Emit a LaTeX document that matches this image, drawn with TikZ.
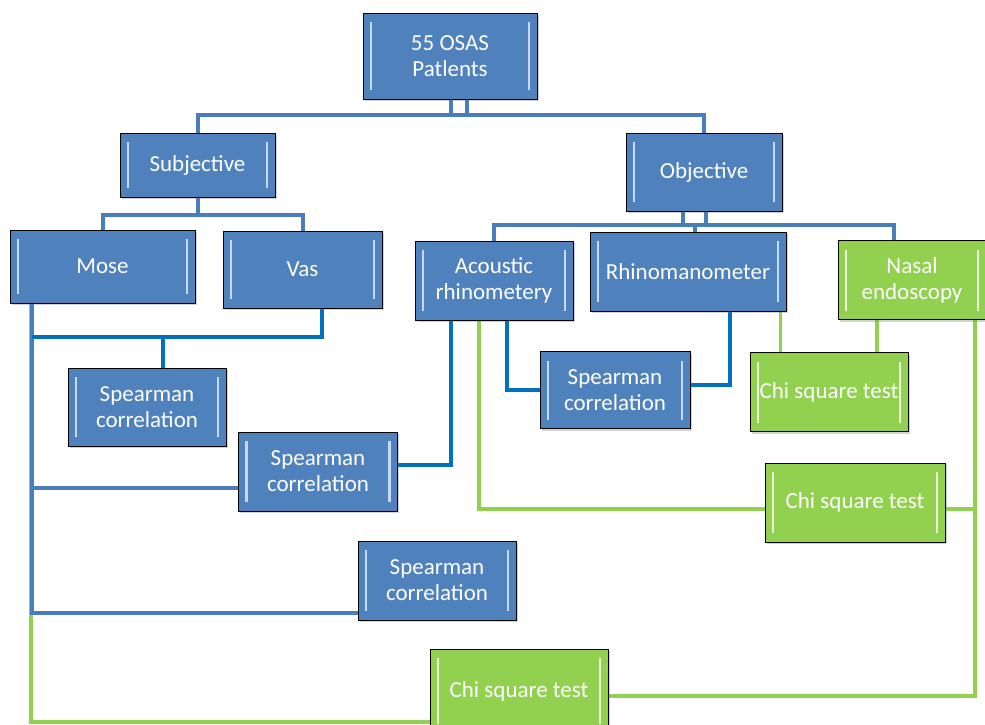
\documentclass[tikz,border=0pt]{standalone}
\usepackage{fontspec}
\setmainfont{Carlito}
\usetikzlibrary{shadows,backgrounds}
\definecolor{boxblue}{HTML}{4F81BD}
\definecolor{boxgreen}{HTML}{92D050}
\definecolor{treeblue}{HTML}{4A7EBB}
\definecolor{linkblue}{HTML}{0070C0}
\definecolor{bevelblue}{HTML}{C6D9F1}
\definecolor{bevelgreen}{HTML}{EBF6DC}
\begin{document}
\begin{tikzpicture}[x=1pt,y=-1pt,
  panel/.style={draw=black,line width=0.8pt,fill=#1,text=white,align=center,inner sep=0pt,
    font=\fontsize{23}{26}\selectfont,
    drop shadow={opacity=0.35,shadow xshift=1.5pt,shadow yshift=-2pt}},
  bevel/.style={path picture={
    \draw[#1,line width=2.4pt] ([xshift=8pt,yshift=-9pt]path picture bounding box.north west) -- ([xshift=8pt,yshift=9pt]path picture bounding box.south west);
    \draw[#1,line width=2.4pt] ([xshift=-8pt,yshift=-9pt]path picture bounding box.north east) -- ([xshift=-8pt,yshift=9pt]path picture bounding box.south east);}},
  bluebox/.style={panel=boxblue,bevel=bevelblue},
  greenbox/.style={panel=boxgreen,bevel=bevelgreen},
  tree/.style={draw=treeblue,line width=4pt},
  link/.style={draw=linkblue,line width=4pt},
  grn/.style={draw=boxgreen,line width=3.5pt}]
  \useasboundingbox (0,0) rectangle (985,724);
  \node[bluebox,minimum width=174pt,minimum height=86pt] (root) at (450,56) {55 OSAS\\Patlents};
  \node[bluebox,minimum width=155pt,minimum height=64pt] (subj) at (197.5,165) {Subjective};
  \node[bluebox,minimum width=156pt,minimum height=78pt] (obj) at (704,172) {Objective};
  \node[bluebox,minimum width=185pt,minimum height=73pt] (mose) at (102.5,266.5) {Mose};
  \node[bluebox,minimum width=159pt,minimum height=77pt] (vas) at (302.5,269.5) {Vas};
  \node[bluebox,minimum width=158pt,minimum height=79pt] (acou) at (494,280.5) {Acoustic\\rhinometery};
  \node[bluebox,minimum width=196pt,minimum height=79pt] (rhino) at (688,271.5) {Rhinomanometer};
  \node[greenbox,minimum width=148pt,minimum height=79pt] (nasal) at (912,280) {Nasal\\endoscopy};
  \node[bluebox,minimum width=158pt,minimum height=78pt] (sp1) at (147,407) {Spearman\\correlation};
  \node[bluebox,minimum width=159pt,minimum height=79pt] (sp2) at (318,471.5) {Spearman\\correlation};
  \node[bluebox,minimum width=150pt,minimum height=77pt] (sp3) at (615,390) {Spearman\\correlation};
  \node[greenbox,minimum width=158pt,minimum height=79pt] (chi1) at (829,392) {Chi square test};
  \node[greenbox,minimum width=180pt,minimum height=79pt] (chi2) at (855,502.5) {Chi square test};
  \node[bluebox,minimum width=158pt,minimum height=79pt] (sp4) at (437,580.5) {Spearman\\correlation};
  \node[greenbox,minimum width=178pt,minimum height=84pt] (chi3) at (519,691) {Chi square test};
  \coordinate (mosefoot) at ([xshift=-70.5pt]mose.south);
  \coordinate (nasalfoot) at ([xshift=63pt]nasal.south);
  \begin{scope}[on background layer]
    \fill[white] (0,0) rectangle (985,724);
    \draw[tree] (subj.north) |- ([yshift=-16pt]root.south) -| (obj.north);
    \draw[tree] ([xshift=1pt]root.south) -- ++(0,16);
    \draw[tree] ([xshift=17pt]root.south) -- ++(0,16);
    \draw[tree] (mose.north) |- ([yshift=-18pt]subj.south) -| (vas.north);
    \draw[tree] (subj.south) -- ++(0,18);
    \draw[tree] (acou.north) |- ([yshift=-14pt]obj.south) -| ([xshift=-18pt]nasal.north);
    \draw[tree] ([xshift=-21pt]obj.south) -- ++(0,14);
    \draw[tree] ([xshift=2pt]obj.south) -- ++(0,14);
    \draw[tree] ([xshift=7pt]rhino.north) -- ++(0,-7);
    \draw[grn] ([xshift=-1pt]mosefoot) |- ([yshift=-31pt]chi3.west);
    \draw[tree] (mosefoot) |- ([yshift=-32.5pt]sp4.west);
    \draw[tree] ([yshift=-16.5pt]sp2.west) -- ([yshift=-16.5pt]sp2.west -| mosefoot);
    \draw[link] ([xshift=19.5pt]vas.south) |- ([yshift=-29pt]vas.south -| mosefoot);
    \draw[link] ([xshift=16pt]sp1.north) -- ++(0,-31);
    \draw[link] ([xshift=-43pt]acou.south) |- ([yshift=6.5pt]sp2.east);
    \draw[link] ([xshift=13pt]acou.south) |- (sp3.west);
    \draw[grn] ([xshift=-15pt]acou.south) |- ([yshift=-6.5pt]chi2.west);
    \draw[link] ([xshift=42pt]rhino.south) |- ([yshift=5pt]sp3.east);
    \draw[grn] ([xshift=-6pt]rhino.south east) -- ([xshift=-6pt]rhino.south east |- chi1.north);
    \draw[grn] ([xshift=-35pt]nasal.south) -- ([xshift=-35pt]nasal.south |- chi1.north);
    \draw[grn] (nasalfoot) |- ([yshift=-5pt]chi3.east);
    \draw[grn] ([yshift=-6.5pt]chi2.east) -- ([yshift=-6.5pt]chi2.east -| nasalfoot);
  \end{scope}
\end{tikzpicture}
\end{document}
